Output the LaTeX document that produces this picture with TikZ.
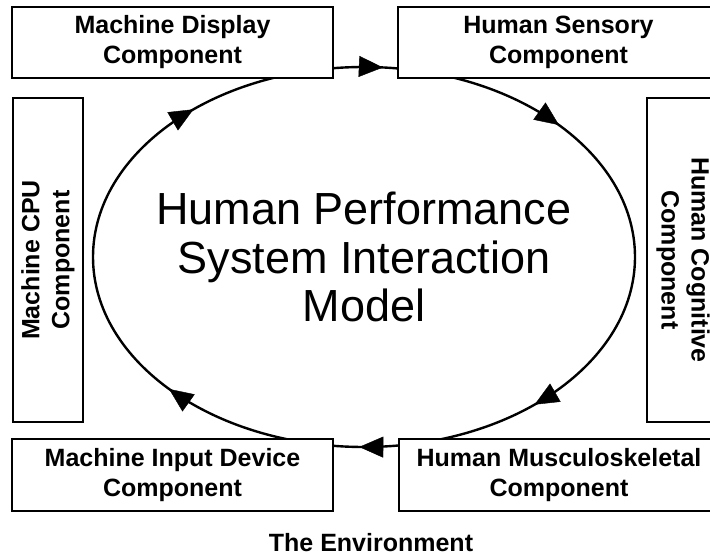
\documentclass[tikz,border=0pt]{standalone}
\usepackage{fontspec}
\setmainfont{Liberation Sans}
\usetikzlibrary{arrows.meta}
\tikzset{
  comp/.style={draw, fill=white, line width=1.2pt, inner sep=0pt, align=center,
    font=\bfseries\fontsize{25}{30}\selectfont},
  flowtip/.style={-{Triangle[length=24pt,width=21pt]}, line width=0.4pt}
}
\begin{document}
\begin{tikzpicture}[x=1pt, y=-1pt]
\useasboundingbox (0,0) rectangle (710,556);
\clip (0,0) rectangle (710,556);
% the loop
\node[font=\fontsize{45}{48.5}\selectfont, align=center] (model) at (364,257)
  {Human Performance\\System Interaction\\Model};
\draw[line width=2.4pt] (model.center) ellipse (271 and 190);

% the six components
\node[comp, minimum width=321pt, minimum height=71pt] (display) at (172.5,42.5) {Machine Display\\Component};
\node[comp, minimum width=321pt, minimum height=71pt] (sensory) at (558.5,42.5) {Human Sensory\\Component};
\node[comp, rotate=-90, minimum width=324pt, minimum height=72pt] (cognitive) at (683,260) {Human Cognitive\\Component};
\node[comp, minimum width=320pt, minimum height=72pt] (muscle) at (559,475) {Human Musculoskeletal\\Component};
\node[comp, minimum width=321pt, minimum height=72pt] (input) at (172.5,475) {Machine Input Device\\Component};
\node[comp, rotate=90, minimum width=324pt, minimum height=70pt] (cpu) at (48,260) {Machine CPU\\Component};

\node[font=\bfseries\fontsize{25}{30}\selectfont, anchor=base, inner sep=0pt] (env) at (371,551) {The Environment};

% arrow heads on the loop
\foreach \t in {51,91,136,231,274,316}
  \draw[flowtip] ([shift={(model.center)}] {\t-1}:271 and 190) -- ([shift={(model.center)}] \t:271 and 190);
\end{tikzpicture}
\end{document}
